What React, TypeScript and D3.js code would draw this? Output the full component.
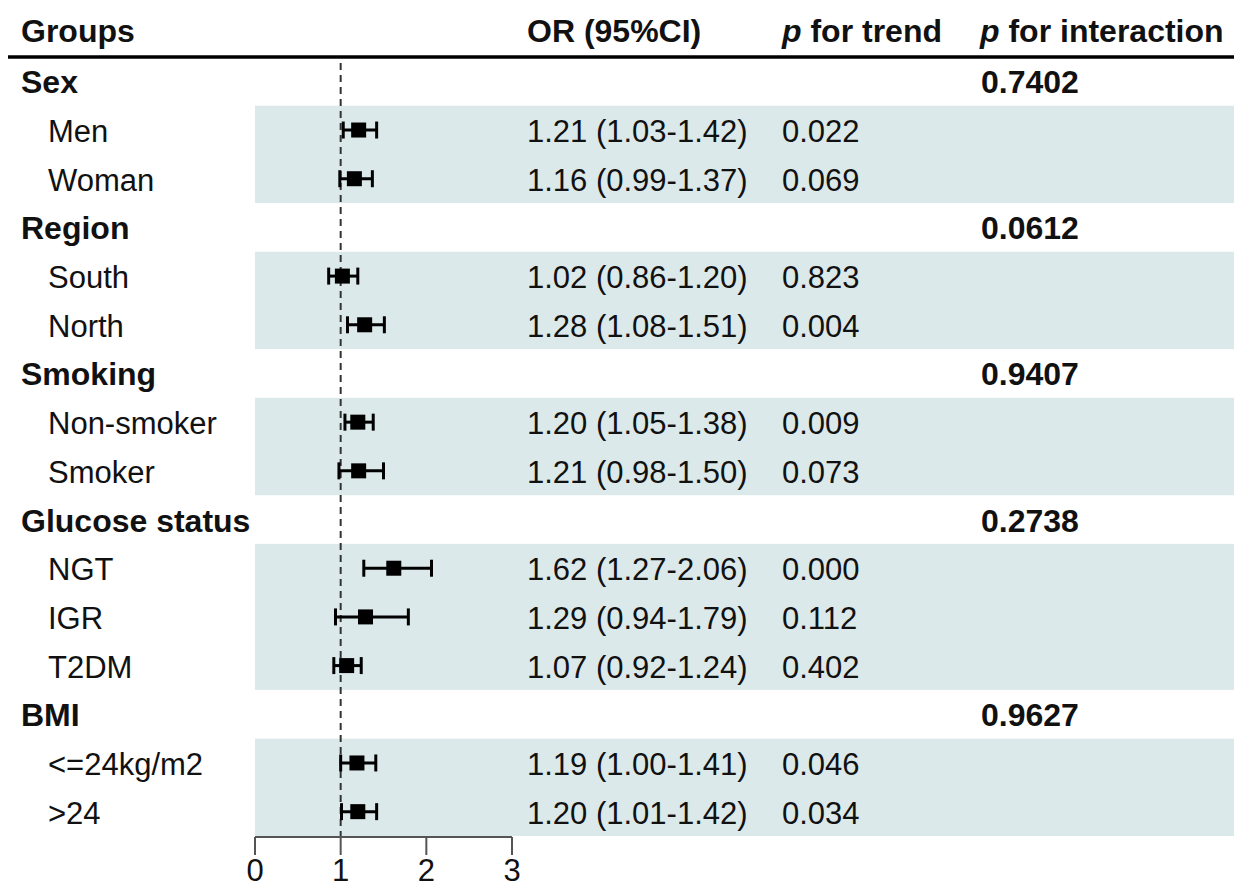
import React from "react";
import * as d3 from "d3";

const groupNames = ["Sex", "Region", "Smoking", "Glucose status", "BMI"];
const pInteraction = ["0.7402", "0.0612", "0.9407", "0.2738", "0.9627"];

const subLabels = ["Men", "Woman", "South", "North", "Non-smoker", "Smoker", "NGT", "IGR", "T2DM", "<=24kg/m2", ">24"];
const subGroup = [0, 0, 1, 1, 2, 2, 3, 3, 3, 4, 4];
const orValues = [1.21, 1.16, 1.02, 1.28, 1.2, 1.21, 1.62, 1.29, 1.07, 1.19, 1.2];
const lowerCI = [1.03, 0.99, 0.86, 1.08, 1.05, 0.98, 1.27, 0.94, 0.92, 1.0, 1.01];
const upperCI = [1.42, 1.37, 1.2, 1.51, 1.38, 1.5, 2.06, 1.79, 1.24, 1.41, 1.42];
const pTrend = ["0.022", "0.069", "0.823", "0.004", "0.009", "0.073", "0.000", "0.112", "0.402", "0.046", "0.034"];

const axisTicks = [0, 1, 2, 3];

type Row =
  | { kind: "group"; g: number }
  | { kind: "sub"; s: number };

export default function App() {
  const W = 1234;
  const H = 889;
  const font = "'Liberation Sans', Arial, sans-serif";
  const fs = 31;
  const fsb = 32;

  const rows: Row[] = [];
  groupNames.forEach((_, g) => {
    rows.push({ kind: "group", g });
    subGroup.forEach((sg, s) => {
      if (sg === g) rows.push({ kind: "sub", s });
    });
  });

  const x = d3.scaleLinear().domain([0, 3]).range([255, 512]);
  const yTop = d3.scaleLinear().domain([0, rows.length]).range([57, 836]);
  const rowH = yTop(1) - yTop(0);
  const yc = (i: number) => yTop(i) + rowH / 2;

  const bands: { start: number; end: number }[] = [];
  rows.forEach((r, i) => {
    if (r.kind === "sub") {
      const last = bands[bands.length - 1];
      if (last && last.end === i) last.end = i + 1;
      else bands.push({ start: i, end: i + 1 });
    }
  });

  const colOR = 527;
  const colTrend = 782;
  const colInt = 981;
  const axisY = 837;
  const box = 15;
  const capH = 17;

  return (
    <svg
      width={W}
      height={H}
      style={{ position: "absolute", left: 0, top: 0, background: "#fff" }}
      fontFamily={font}
    >
      {bands.map((b, i) => (
        <rect
          key={"band" + i}
          x={x(0)}
          y={yTop(b.start)}
          width={W - x(0)}
          height={yTop(b.end) - yTop(b.start)}
          fill="#dce9ea"
        />
      ))}

      <g fontSize={fsb} fontWeight="bold" fill="#111">
        <text x={21} y={42}>Groups</text>
        <text x={colOR} y={42}>OR (95%CI)</text>
        <text x={colTrend} y={42}>
          <tspan fontStyle="italic">p</tspan> for trend
        </text>
        <text x={colInt - 1} y={42}>
          <tspan fontStyle="italic">p</tspan> for interaction
        </text>
      </g>
      <line x1={8} x2={W} y1={57} y2={57} stroke="#000" strokeWidth={3.5} />

      <line
        x1={x(1)}
        x2={x(1)}
        y1={63}
        y2={axisY}
        stroke="#333"
        strokeWidth={2}
        strokeDasharray="7,5"
      />

      {rows.map((r, i) => {
        const cy = yc(i);
        const by = cy + 12;
        if (r.kind === "group") {
          return (
            <g key={"r" + i} fontSize={fsb} fontWeight="bold" fill="#111">
              <text x={21} y={by}>{groupNames[r.g]}</text>
              <text x={colInt} y={by}>{pInteraction[r.g]}</text>
            </g>
          );
        }
        const s = r.s;
        const xl = x(lowerCI[s]);
        const xh = x(upperCI[s]);
        const xm = x(orValues[s]);
        return (
          <g key={"r" + i}>
            <g fontSize={fs} fill="#111">
              <text x={48} y={by}>{subLabels[s]}</text>
              <text x={colOR} y={by}>
                {`${orValues[s].toFixed(2)} (${lowerCI[s].toFixed(2)}-${upperCI[s].toFixed(2)})`}
              </text>
              <text x={colTrend} y={by}>{pTrend[s]}</text>
            </g>
            <g stroke="#000" strokeWidth={3}>
              <line x1={xl} x2={xh} y1={cy} y2={cy} />
              <line x1={xl} x2={xl} y1={cy - capH / 2} y2={cy + capH / 2} />
              <line x1={xh} x2={xh} y1={cy - capH / 2} y2={cy + capH / 2} />
            </g>
            <rect x={xm - box / 2} y={cy - box / 2} width={box} height={box} fill="#000" />
          </g>
        );
      })}

      <g stroke="#555" strokeWidth={2}>
        <line x1={x(0)} x2={x(3)} y1={axisY} y2={axisY} />
        {axisTicks.map((t) => (
          <line key={"t" + t} x1={x(t)} x2={x(t)} y1={axisY} y2={axisY + 18} />
        ))}
      </g>
      <g fontSize={fs} fill="#111" textAnchor="middle">
        {axisTicks.map((t) => (
          <text key={"l" + t} x={x(t)} y={881}>{t}</text>
        ))}
      </g>
    </svg>
  );
}
